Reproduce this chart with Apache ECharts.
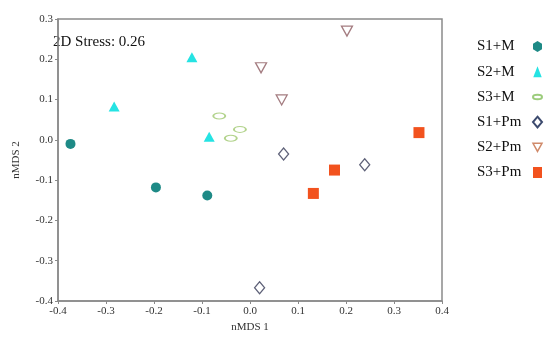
<!DOCTYPE html>
<html><head><meta charset="utf-8">
<script src="https://cdn.jsdelivr.net/npm/echarts@6/dist/echarts.min.js"></script>
<style>html,body{margin:0;padding:0;background:#fff}#c{width:550px;height:343px}</style>
</head><body><div id="c"></div>
<script>
const seriesNames = ['S1+M','S2+M','S3+M','S1+Pm','S2+Pm','S3+Pm'];
const s1m = [[-0.374,-0.010],[-0.196,-0.118],[-0.089,-0.138]];
const s2m = [[-0.283,0.083],[-0.121,0.205],[-0.085,0.008]];
const s3m = [[-0.064,0.059],[-0.040,0.004],[-0.021,0.026]];
const s1pm = [[0.070,-0.035],[0.239,-0.062],[0.020,-0.367]];
const s2pm = [[0.023,0.179],[0.066,0.099],[0.202,0.270]];
const s3pm = [[0.132,-0.133],[0.176,-0.075],[0.352,0.018]];
const xTicks = [-0.4,-0.3,-0.2,-0.1,0.0,0.1,0.2,0.3,0.4];
const yTicks = [-0.4,-0.3,-0.2,-0.1,0.0,0.1,0.2,0.3];
const stressLabel = '2D Stress: 0.26';

const FONT = '"Liberation Serif", "Times New Roman", serif';
const ellipse = 'path://M0,5 A10,5 0 1,0 20,5 A10,5 0 1,0 0,5 Z';
const downTri = 'path://M0,0 L10,0 L5,9 Z';
const diamond = 'path://M5,0 L10,6 L5,12 L0,6 Z';
const upTri = 'path://M5,0 L10,9 L0,9 Z';
const hexagon = 'path://M5,0 L10,3 L10,9 L5,12 L0,9 L0,3 Z';
const legendUpTri = 'path://M5,0 L10,13 L0,13 Z';

const styles = [
  {data:s1m, symbol:'circle', size:10, item:{color:'#1e8a86'}, legendIcon:hexagon, legendItem:{color:'#1e8a86'}},
  {data:s2m, symbol:upTri, size:[11,10], item:{color:'#25e3e3'}, legendIcon:legendUpTri, legendItem:{color:'#25e3e3'}},
  {data:s3m, symbol:ellipse, size:[12,6], item:{color:'#ffffff', borderColor:'#b2d38c', borderWidth:1.4}, legendIcon:ellipse, legendItem:{color:'#ffffff', borderColor:'#9ccc7c', borderWidth:2}},
  {data:s1pm, symbol:diamond, size:[10,12], item:{color:'#ffffff', borderColor:'#5e6178', borderWidth:1.3}, legendIcon:diamond, legendItem:{color:'#ffffff', borderColor:'#3c4a6e', borderWidth:2}},
  {data:s2pm, symbol:downTri, size:[11,10], item:{color:'#ffffff', borderColor:'#a47c80', borderWidth:1.3}, legendIcon:downTri, legendItem:{color:'#ffffff', borderColor:'#d08a6a', borderWidth:1.5}},
  {data:s3pm, symbol:'rect', size:11, item:{color:'#f2521e'}, legendIcon:'rect', legendItem:{color:'#f2521e'}}
];

const fmt = v => (Math.abs(v) < 1e-9 ? '0.0' : v.toFixed(1));
const axisCommon = {
  axisLine:{show:true, onZero:false, lineStyle:{color:'#8a8a8a', width:1.5}},
  axisTick:{show:true, length:3, lineStyle:{color:'#8a8a8a'}},
  axisLabel:{fontFamily:FONT, fontSize:11, color:'#333', margin:5, formatter:fmt},
  splitLine:{show:false}
};
const chart = echarts.init(document.getElementById('c'));
chart.setOption({
  animation:false,
  grid:{left:58, right:108, top:19, bottom:42, show:true, borderColor:'#8a8a8a', borderWidth:1.5, backgroundColor:'transparent'},
  xAxis:Object.assign({type:'value', min:xTicks[0], max:xTicks[xTicks.length-1], interval:0.1,
    name:'nMDS 1', nameLocation:'middle', nameGap:21,
    nameTextStyle:{fontFamily:FONT, fontSize:11, color:'#333'}}, axisCommon),
  yAxis:Object.assign({type:'value', min:yTicks[0], max:yTicks[yTicks.length-1], interval:0.1,
    name:'nMDS 2', nameLocation:'middle', nameGap:36,
    nameTextStyle:{fontFamily:FONT, fontSize:11, color:'#333'}}, axisCommon),
  legend:{orient:'vertical', left:472, top:34, align:'right', itemGap:10.2, itemWidth:9, itemHeight:11,
    formatter:'{a|{name}}',
    textStyle:{fontFamily:FONT, fontSize:15, lineHeight:15, color:'#111',
      rich:{a:{fontFamily:FONT, fontSize:15, lineHeight:15, color:'#111', width:51, align:'left'}}},
    data:seriesNames.map((n,i)=>({name:n, icon:styles[i].legendIcon, itemStyle:styles[i].legendItem}))},
  graphic:[{type:'text', left:53, top:35, style:{text:stressLabel, font:'15px ' + FONT, fill:'#111'}}],
  series: styles.map((s,i)=>({
    name:seriesNames[i], type:'scatter', data:s.data, symbol:s.symbol, symbolSize:s.size,
    itemStyle:Object.assign({opacity:1}, s.item), emphasis:{disabled:true}
  }))
});
</script></body></html>
